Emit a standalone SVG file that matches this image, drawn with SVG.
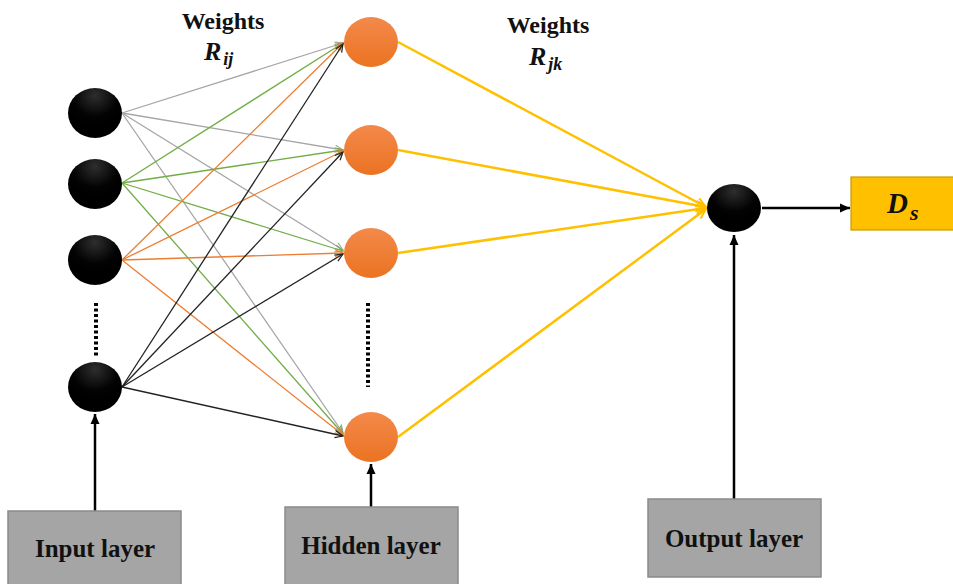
<svg xmlns="http://www.w3.org/2000/svg" width="953" height="584" viewBox="0 0 953 584">
<style>
.lbl{font-family:"Liberation Serif","Times New Roman",serif;font-weight:bold;fill:#111;}
.math{font-family:"Liberation Serif","Times New Roman",serif;font-weight:bold;font-style:italic;fill:#111;}
.box{fill:#a5a5a5;stroke:#8a8a8a;stroke-width:1.5;}
.w{fill:none;stroke-width:1.3;}
.g{stroke:#a6a6a6;} .gr{stroke:#70ad47;} .o{stroke:#ed7d31;} .k{stroke:#222;}
.y{fill:none;stroke:#ffc000;stroke-width:2.5;}
.v{fill:none;stroke:#000;stroke-width:2.5;}
.dots{fill:none;stroke:#000;stroke-width:4;stroke-dasharray:3 2.5;}
</style>
<defs>
<radialGradient id="blk" cx="0.5" cy="0.15" r="0.6">
<stop offset="0" stop-color="#2e2e2e"/><stop offset="0.7" stop-color="#030303"/><stop offset="1" stop-color="#000"/>
</radialGradient>
<linearGradient id="org" x1="0" y1="0" x2="0" y2="1">
<stop offset="0" stop-color="#f3894a"/><stop offset="1" stop-color="#eb7322"/>
</linearGradient>
<marker id="aG" markerUnits="userSpaceOnUse" markerWidth="12" markerHeight="12" refX="9" refY="4" orient="auto"><path d="M1,0.5 L9,4 L1,7.5" fill="none" stroke="#a6a6a6" stroke-width="1.2"/></marker>
<marker id="aGr" markerUnits="userSpaceOnUse" markerWidth="12" markerHeight="12" refX="9" refY="4" orient="auto"><path d="M1,0.5 L9,4 L1,7.5" fill="none" stroke="#70ad47" stroke-width="1.2"/></marker>
<marker id="aO" markerUnits="userSpaceOnUse" markerWidth="12" markerHeight="12" refX="9" refY="4" orient="auto"><path d="M1,0.5 L9,4 L1,7.5" fill="none" stroke="#ed7d31" stroke-width="1.2"/></marker>
<marker id="aK" markerUnits="userSpaceOnUse" markerWidth="12" markerHeight="12" refX="9" refY="4" orient="auto"><path d="M1,0.5 L9,4 L1,7.5" fill="none" stroke="#222" stroke-width="1.2"/></marker>
<marker id="aY" markerUnits="userSpaceOnUse" markerWidth="14" markerHeight="14" refX="11" refY="5" orient="auto"><path d="M1,0.5 L11,5 L1,9.5" fill="none" stroke="#ffc000" stroke-width="2"/></marker>
<marker id="aF" markerUnits="userSpaceOnUse" markerWidth="12" markerHeight="12" refX="10" refY="5" orient="auto"><path d="M0,0.5 L10,5 L0,9.5 Z" fill="#000"/></marker>
</defs>

<g id="connectors">
<line class="w g" x1="122" y1="113" x2="343" y2="43" marker-end="url(#aG)"/>
<line class="w g" x1="122" y1="113" x2="343" y2="150" marker-end="url(#aG)"/>
<line class="w g" x1="122" y1="113" x2="343" y2="250" marker-end="url(#aG)"/>
<line class="w g" x1="122" y1="113" x2="343" y2="433" marker-end="url(#aG)"/>
<line class="w gr" x1="122" y1="183" x2="343" y2="43" marker-end="url(#aGr)"/>
<line class="w gr" x1="122" y1="183" x2="343" y2="150" marker-end="url(#aGr)"/>
<line class="w gr" x1="122" y1="183" x2="343" y2="251" marker-end="url(#aGr)"/>
<line class="w gr" x1="122" y1="183" x2="343" y2="434" marker-end="url(#aGr)"/>
<line class="w o" x1="122" y1="260" x2="343" y2="43" marker-end="url(#aO)"/>
<line class="w o" x1="122" y1="260" x2="343" y2="151" marker-end="url(#aO)"/>
<line class="w o" x1="122" y1="260" x2="343" y2="253" marker-end="url(#aO)"/>
<line class="w o" x1="122" y1="260" x2="343" y2="435" marker-end="url(#aO)"/>
<line class="w k" x1="122" y1="387" x2="343" y2="44" marker-end="url(#aK)"/>
<line class="w k" x1="122" y1="387" x2="343" y2="152" marker-end="url(#aK)"/>
<line class="w k" x1="122" y1="387" x2="343" y2="254" marker-end="url(#aK)"/>
<line class="w k" x1="122" y1="387" x2="343" y2="436" marker-end="url(#aK)"/>
<line class="y" x1="398" y1="42" x2="706" y2="207" marker-end="url(#aY)"/>
<line class="y" x1="398" y1="150" x2="706" y2="207" marker-end="url(#aY)"/>
<line class="y" x1="398" y1="253" x2="706" y2="208" marker-end="url(#aY)"/>
<line class="y" x1="398" y1="437" x2="706" y2="209" marker-end="url(#aY)"/>
<line class="v" x1="762" y1="208" x2="850" y2="208" stroke-width="2" marker-end="url(#aF)"/>
<line class="v" x1="95" y1="511" x2="95" y2="414" marker-end="url(#aF)"/>
<line class="v" x1="371" y1="507" x2="371" y2="464" marker-end="url(#aF)"/>
<line class="v" x1="734" y1="499" x2="734" y2="235" marker-end="url(#aF)"/>
</g>

<g id="input-nodes">
<g id="in1"><ellipse cx="95" cy="113" rx="27" ry="25" fill="url(#blk)"/></g>
<g id="in2"><ellipse cx="95" cy="184" rx="27" ry="25" fill="url(#blk)"/></g>
<g id="in3"><ellipse cx="95" cy="260" rx="27" ry="25" fill="url(#blk)"/></g>
<g id="in-dots"><line class="dots" x1="96" y1="303" x2="96" y2="357"/></g>
<g id="in4"><ellipse cx="95" cy="387" rx="27" ry="25" fill="url(#blk)"/></g>
</g>

<g id="hidden-nodes">
<g id="h1"><ellipse cx="371" cy="42" rx="27" ry="25" fill="url(#org)"/></g>
<g id="h2"><ellipse cx="371" cy="150" rx="27" ry="25" fill="url(#org)"/></g>
<g id="h3"><ellipse cx="371" cy="253" rx="27" ry="25" fill="url(#org)"/></g>
<g id="h-dots"><line class="dots" x1="368" y1="303" x2="368" y2="387"/></g>
<g id="h4"><ellipse cx="371" cy="437" rx="27" ry="25" fill="url(#org)"/></g>
</g>

<g id="output-node"><ellipse cx="734" cy="208" rx="27" ry="24" fill="url(#blk)"/></g>

<g id="ds-box">
<rect x="851" y="177" width="106" height="53" fill="#ffc000" stroke="#c99a00" stroke-width="1.2"/>
<text x="887" y="213" class="math" font-size="29">D<tspan font-size="22" dx="2" dy="7">s</tspan></text>
</g>

<g id="weights-ij">
<text x="223" y="29" class="lbl" font-size="24" text-anchor="middle">Weights</text>
<text x="204" y="60" class="math" font-size="26">R<tspan font-size="18" dx="2" dy="5">ij</tspan></text>
</g>
<g id="weights-jk">
<text x="548" y="33" class="lbl" font-size="24" text-anchor="middle">Weights</text>
<text x="529" y="65" class="math" font-size="26">R<tspan font-size="18" dx="2" dy="5">jk</tspan></text>
</g>

<g id="input-layer">
<rect class="box" x="8" y="511" width="173" height="80"/>
<text x="95" y="557" class="lbl" font-size="25" text-anchor="middle">Input layer</text>
</g>
<g id="hidden-layer">
<rect class="box" x="285" y="507" width="173" height="80"/>
<text x="371" y="554" class="lbl" font-size="25" text-anchor="middle">Hidden layer</text>
</g>
<g id="output-layer">
<rect class="box" x="648" y="499" width="173" height="78"/>
<text x="734" y="547" class="lbl" font-size="25" text-anchor="middle">Output layer</text>
</g>
</svg>
